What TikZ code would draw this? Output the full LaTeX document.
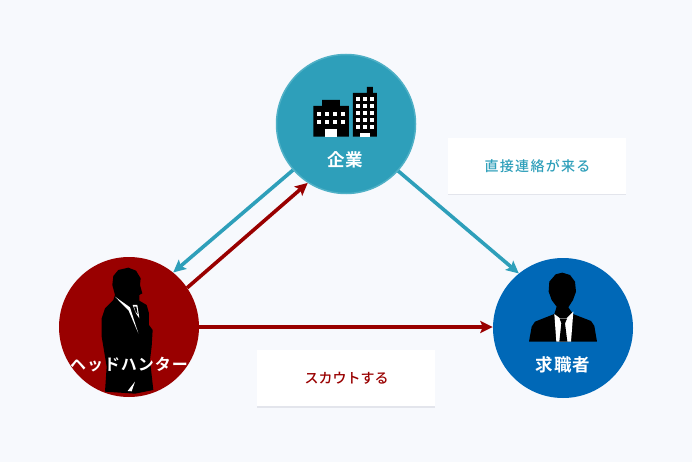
\documentclass[tikz,border=0pt]{standalone}
\usepackage{fontspec}
\usetikzlibrary{arrows.meta}
\newfontfamily\jpb[LetterSpace=6]{Noto Sans CJK JP Bold}
\newfontfamily\jpc[LetterSpace=3]{Noto Sans CJK JP Bold}
\newfontfamily\jpr[LetterSpace=9]{Noto Sans CJK JP Medium}
\newfontfamily\jps[LetterSpace=0]{Noto Sans CJK JP Medium}
\definecolor{bgc}{HTML}{F7F9FD}
\definecolor{tealc}{HTML}{2E9FBA}
\definecolor{teale}{HTML}{4FB0C6}
\definecolor{redc}{HTML}{990000}
\definecolor{bluec}{HTML}{0068B7}
\definecolor{shadowc}{HTML}{E3E5EC}
\tikzset{
  disc/.style={circle,inner sep=0pt,minimum size=#1},
  conn/.style={line width=3.6pt,-{Stealth[length=12.5pt,width=12pt,inset=2.5pt]}},
  toplabel/.style={text=white,font=\jpb\fontsize{16}{18}\selectfont,inner sep=0pt},
  boxlabel/.style={font=\jpr\fontsize{14}{16}\selectfont,inner sep=0pt},
  card/.style={fill=white,draw=none,inner sep=0pt,minimum width=178pt,minimum height=56pt},
  shade2/.style={fill=shadowc,draw=none,inner sep=0pt,minimum width=178pt,minimum height=56pt},
  sil/.style={fill=black,draw=none},
  hole/.style={fill=white,draw=none}
}
\begin{document}
\begin{tikzpicture}[x=1pt,y=-1pt]
\useasboundingbox (0,0) rectangle (692,462);
\fill[bgc] (0,0) rectangle (692,462);
% cards
\node[shade2] at (537,167.5) {};
\node[card] (cardA) at (537,166) {};
\node[shade2] at (346,379.5) {};
\node[card] (cardB) at (346,378) {};
\node[boxlabel,text=tealc] (txtA) at (537.5,166) {直接連絡が来る};
\node[boxlabel,text=redc,font=\jps\fontsize{14}{16}\selectfont] (txtB) at (346.5,378) {スカウトする};
% circles
\node[disc=139pt,fill=tealc,draw=teale,line width=1.5pt] (co) at (346,124) {};
\node[disc=140pt,fill=redc] (hh) at (129,327) {};
\node[disc=140pt,fill=bluec] (js) at (563,328) {};
% connectors
\draw[conn,draw=tealc,fill=tealc] (co.221) -- (hh.51);
\draw[conn,draw=redc,fill=redc] (hh.34) -- (co.237);
\draw[conn,draw=tealc,fill=tealc] (co.-42) -- (js.129);
\draw[conn,draw=redc,fill=redc] (hh.0) -- (hh.0 -| js.180);
% buildings
\begin{scope}[shift={(270,50)},x=0.3333pt,y=-0.3333pt]
\fill[sil] (130,168) -- (156,168) -- (156,150) -- (210,150) -- (210,168) -- (237,168) -- (237,260) -- (130,260) -- cycle;
\foreach \cx in {141,165,189,213}{\foreach \cy in {186,210}{\fill[hole] (\cx,\cy) rectangle +(12,12);}}
\fill[hole] (165,238) rectangle (201,260);
\fill[sil] (249,129) -- (291,129) -- (291,111) -- (309,111) -- (309,129) -- (321,129) -- (321,260) -- (249,260) -- cycle;
\foreach \cx in {258,279,300}{\foreach \cy in {140,161,182,203,224}{\fill[hole] (\cx,\cy) rectangle +(12,12);}}
\fill[hole] (270,249) rectangle (300,260);
\end{scope}
% left silhouette
\begin{scope}[shift={(50,250)},x=0.3333pt,y=-0.3333pt]
\fill[sil] (190,78) -- (205,60) -- (235,53) -- (258,62) -- (272,85) -- (270,105) -- (277,130) -- (268,135) -- (268,152) -- (290,165) -- (297,190) -- (297,225) -- (308,240) -- (305,290) -- (300,330) -- (310,420) -- (255,431) -- (165,425) -- (170,350) -- (155,260) -- (155,205) -- (165,175) -- (190,150) -- (195,135) -- (187,105) -- cycle;
\fill[white] (195,140) -- (240,172) -- (265,250) -- (236,182) -- cycle;
\fill[white] (248,165) -- (262,165) -- (268,205) -- (258,190) -- cycle;
\fill[sil] (252,170) -- (259,170) -- (263,192) -- (257,185) -- cycle;
\fill[white] (233,423) -- (255,395) -- (245,424) -- cycle;
\end{scope}
% right silhouette
\begin{scope}[shift={(485,250)},x=0.3333pt,y=-0.3333pt]
\fill[sil] (132,275) -- (140,230) -- (150,215) -- (208,192) -- (215,170) -- (200,150) -- (191,125) -- (193,95) -- (212,73) -- (232,68) -- (255,75) -- (270,95) -- (273,125) -- (264,150) -- (250,172) -- (264,192) -- (318,213) -- (328,228) -- (336,275) -- cycle;
\fill[white] (208,192) -- (225,205) -- (245,205) -- (265,185) -- (258,275) -- (214,275) -- cycle;
\fill[sil] (224,206) -- (246,206) -- (240,220) -- (247,275) -- (223,275) -- (229,220) -- cycle;
\end{scope}
% circle labels
\node[toplabel,font=\jpc\fontsize{17.5}{18}\selectfont] (lblco) at (345.5,160) {企業};
\node[toplabel] (lblhh) at (129,365) {ヘッドハンター};
\node[toplabel,font=\jpb\fontsize{17.5}{18}\selectfont] (lbljs) at (563,365) {求職者};
\end{tikzpicture}
\end{document}
